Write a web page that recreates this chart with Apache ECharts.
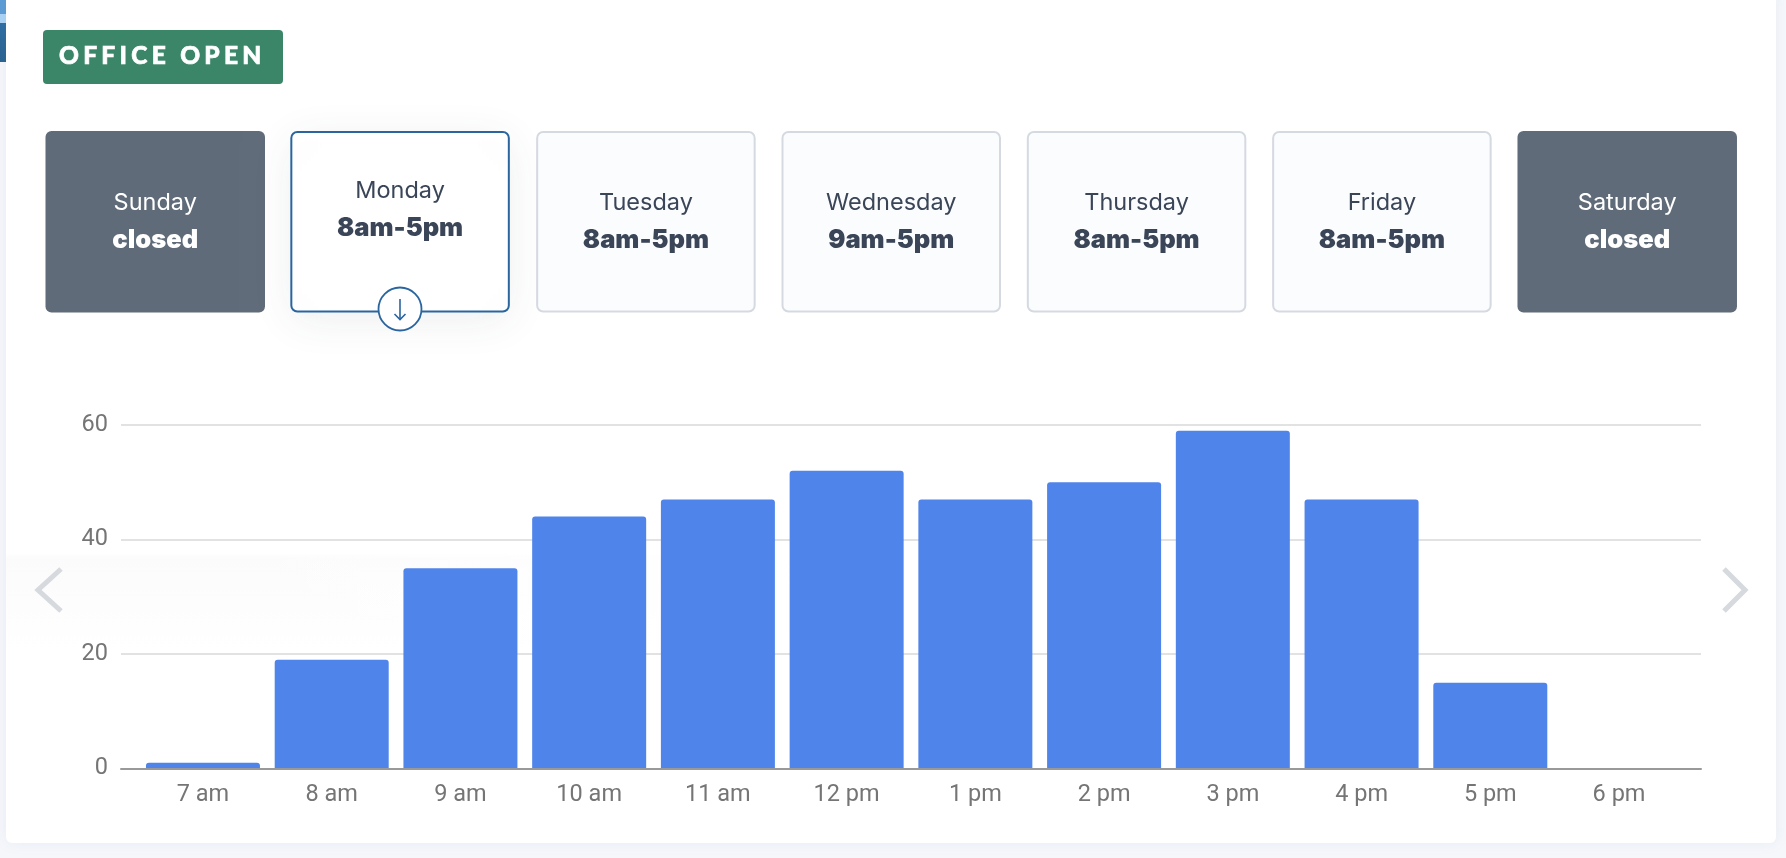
<!DOCTYPE html>
<html><head><meta charset="utf-8">
<style>html,body{margin:0;padding:0;background:#f5f7fb}#c{width:1786px;height:858px}
#badge{position:absolute;left:59px;top:40px;height:30px;font:900 24.5px/30px Lato,sans-serif;letter-spacing:4.3px;color:#fff;white-space:nowrap;-webkit-text-stroke:0.7px #fff}</style>
<script src="https://cdn.jsdelivr.net/npm/echarts@6/dist/echarts.min.js"></script>
</head><body><div id="c"></div><div id="badge"></div>
<script>
const dayNames = ['Sunday','Monday','Tuesday','Wednesday','Thursday','Friday','Saturday'];
const dayHours = ['closed','8am-5pm','8am-5pm','9am-5pm','8am-5pm','8am-5pm','closed'];
const hours = ['7 am','8 am','9 am','10 am','11 am','12 pm','1 pm','2 pm','3 pm','4 pm','5 pm','6 pm'];
const visits = [1,19,35,44,47,52,47,50,59,47,15,0];
const badgeText = 'OFFICE OPEN';
const cardFont = 'Inter, "Noto Sans", sans-serif';
document.getElementById('badge').textContent = badgeText;
const chart = echarts.init(document.getElementById('c'), null, {renderer:'canvas'});
const g = [];
g.push({type:'rect',z:-10,shape:{x:0,y:0,width:6,height:62},style:{fill:new echarts.graphic.LinearGradient(0,0,0,1,[{offset:0,color:'#2f72ad'},{offset:1,color:'#28618f'}])}});
g.push({type:'rect',z:-10,shape:{x:0,y:0,width:6,height:14},style:{fill:'#5b9bd5'}});
g.push({type:'rect',z:-10,shape:{x:0,y:14,width:6,height:9},style:{fill:'#a9d3f5'}});
g.push({type:'rect',z:-9,shape:{x:6,y:-10,width:1770,height:853,r:6},style:{fill:'#ffffff',shadowBlur:14,shadowColor:'rgba(120,135,170,0.10)'}});
g.push({type:'rect',z:-8,shape:{x:6,y:553,width:800,height:100},style:{fill:new echarts.graphic.LinearGradient(0,0,0,1,[{offset:0,color:'#ffffff'},{offset:0.06,color:'#fbfbfb'},{offset:1,color:'#ffffff'}])}});
g.push({type:'rect',z:-7,shape:{x:6,y:551,width:802,height:104},style:{fill:new echarts.graphic.LinearGradient(0,0,1,0,[{offset:0,color:'rgba(255,255,255,0)'},{offset:0.25,color:'rgba(255,255,255,0)'},{offset:1,color:'rgba(255,255,255,1)'}])}});
g.push({type:'rect',z:-5,shape:{x:43,y:30,width:240,height:54,r:4},style:{fill:'#3b8569'}});
dayNames.forEach((d,i)=>{
  const x = 45.5 + i*245.33 - (i===1?0.5:0), w = 219.5, y = 131, h = 181.5;
  const closed = dayHours[i]==='closed', sel = i===1;
  g.push({type:'rect',z:-5,shape:{x:x+(closed?0:1),y:y+(closed?0:1),width:w-(closed?0:2),height:h-(closed?0:2),r:6},
    style: closed?{fill:'#606b79'}:{fill:sel?'#fff':'#fbfcfe',stroke:sel?'#2a659f':'#d5dae1',lineWidth:2,shadowBlur:sel?44:0,shadowColor:'rgba(60,70,90,0.09)',shadowOffsetY:sel?8:0}});
  const cx = x+w/2, dy = sel?-12:0, col = closed?'#fff':'#3a4558';
  g.push({type:'text',z:-4,style:{x:cx,y:203+dy,text:d,fill:col,font:'400 23.5px '+cardFont,align:'center',verticalAlign:'middle'}});
  g.push({type:'text',z:-4,style:{x:cx,y:240+dy,text:dayHours[i],fill:col,font:'900 25.5px '+cardFont,align:'center',verticalAlign:'middle'}});
});
g.push({type:'circle',z:-3,shape:{cx:400,cy:309,r:21.5},style:{fill:'#fff',stroke:'#2a659f',lineWidth:1.8}});
g.push({type:'polyline',z:-2,shape:{points:[[400,299],[400,319.5]]},style:{stroke:'#2a659f',lineWidth:1.6,fill:null}});
g.push({type:'polyline',z:-2,shape:{points:[[394.5,314],[400,319.5],[405.5,314]]},style:{stroke:'#2a659f',lineWidth:1.6,fill:null}});
g.push({type:'polyline',z:10,shape:{points:[[61,569],[38,590],[61,611]]},style:{stroke:'#d6d9dd',lineWidth:5,fill:null}});
g.push({type:'polyline',z:10,shape:{points:[[1724,569],[1745,590],[1724,611]]},style:{stroke:'#d6d9dd',lineWidth:5,fill:null}});
const axisFont = {fontFamily:'Roboto',fontSize:23.5,color:'#757575'};
chart.setOption({
  animation:false,
  backgroundColor:'#f5f7fb',
  graphic:{elements:g},
  grid:[
    {left:121,right:85,top:425,bottom:89.5},
    {left:138.6,right:102.6,top:425,bottom:89.5}
  ],
  xAxis:[
    {gridIndex:0,type:'value',min:0,max:1,z:5,axisLine:{show:true,onZero:false,lineStyle:{color:'#999999',width:2}},axisTick:{show:false},axisLabel:{show:false},splitLine:{show:false}},
    {gridIndex:1,type:'category',data:hours,axisLine:{show:false},axisTick:{show:false},axisLabel:{...axisFont,margin:15}}
  ],
  yAxis:[
    {gridIndex:0,type:'value',min:0,max:60,interval:20,axisLine:{show:false},axisTick:{show:false},axisLabel:{...axisFont,margin:13},splitLine:{lineStyle:{color:'#e2e2e2',width:2}}},
    {gridIndex:1,type:'value',min:0,max:60,interval:20,show:false}
  ],
  series:[{type:'bar',xAxisIndex:1,yAxisIndex:1,data:visits,barWidth:114,itemStyle:{color:'#4f84ea',borderRadius:[3,3,0,0]}}]
});
</script></body></html>
